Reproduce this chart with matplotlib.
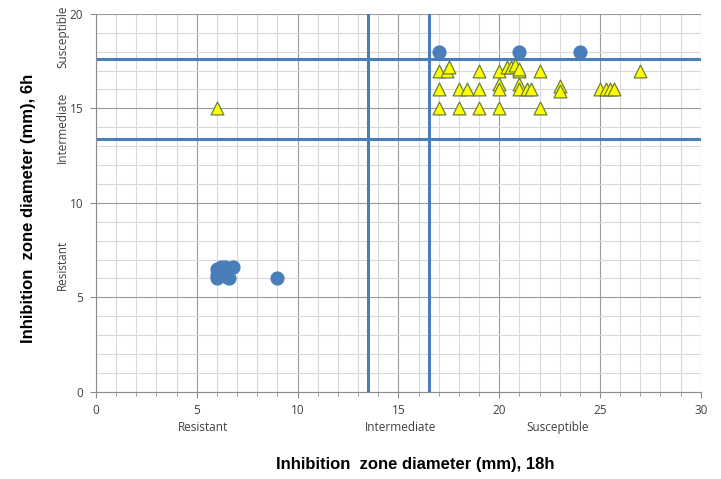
import matplotlib
matplotlib.use("Agg")
import matplotlib.pyplot as plt
from matplotlib.ticker import MultipleLocator

# blue circles
circle_x = [17, 21, 24, 6, 6, 6, 6.2, 6.4, 6.5, 6.6, 6.8, 6.3, 6.1, 9]
circle_y = [18, 18, 18, 6, 6.2, 6.5, 6.6, 6.6, 6.1, 6.0, 6.6, 6.3, 6.4, 6]

# yellow triangles
tri_x = [6,
         17, 17.4, 17.5, 19, 20, 20.4, 20.6, 20.8, 21, 21, 22, 27,
         20, 21, 23, 23,
         17, 18, 18.4, 19, 20, 21, 21.4, 21.6, 25, 25.3, 25.5, 25.7,
         17, 18, 19, 20, 22]
tri_y = [15,
         17, 17, 17.2, 17, 17, 17.2, 17.2, 17.3, 17, 17.1, 17, 17,
         16.3, 16.3, 16.2, 15.9,
         16, 16, 16, 16, 16, 16, 16, 16, 16, 16, 16, 16,
         15, 15, 15, 15, 15]

# breakpoints
x_breaks = [13.5, 16.5]
y_breaks = [13.4, 17.6]

x_cat = ["Resistant", "Intermediate", "Susceptible"]
x_cat_pos = [5.3, 15.1, 22.9]
y_cat = ["Resistant", "Intermediate", "Susceptible"]
y_cat_pos = [6.7, 14.0, 18.8]

fig = plt.figure(figsize=(7.21, 4.79), dpi=100)
ax = fig.add_axes([0.133, 0.182, 0.839, 0.789])

ax.set_xlim(0, 30)
ax.set_ylim(0, 20)
ax.xaxis.set_major_locator(MultipleLocator(5))
ax.yaxis.set_major_locator(MultipleLocator(5))
ax.xaxis.set_minor_locator(MultipleLocator(1))
ax.yaxis.set_minor_locator(MultipleLocator(1))
ax.grid(which="minor", color="#d9d9d9", linewidth=0.8)
ax.grid(which="major", color="#9a9a9a", linewidth=0.8)
ax.set_axisbelow(True)

for s in ["top", "right"]:
    ax.spines[s].set_visible(False)
for s in ["left", "bottom"]:
    ax.spines[s].set_color("#8c8c8c")
    ax.spines[s].set_linewidth(0.8)

ax.tick_params(axis="both", which="both", colors="#8c8c8c", direction="out",
               labelcolor="#404040", labelsize=8.5)
ax.tick_params(axis="both", which="major", length=4, pad=5)
ax.tick_params(axis="y", which="minor", length=0)
ax.tick_params(axis="x", which="minor", length=3)
for lab in ax.get_xticklabels() + ax.get_yticklabels():
    lab.set_family("Open Sans")

for xb in x_breaks:
    ax.axvline(xb, color="#4a7ebb", linewidth=2.2, zorder=2)
for yb in y_breaks:
    ax.axhline(yb, color="#4a7ebb", linewidth=2.2, zorder=2)

ax.scatter(circle_x, circle_y, s=85, marker="o", color="#4a7ebb",
           edgecolors="#4a7ebb", zorder=3)
ax.scatter(tri_x, tri_y, s=85, marker="^", color="#ffff00",
           edgecolors="#6b7f3a", linewidths=0.9, zorder=4)

for t, p in zip(x_cat, x_cat_pos):
    ax.text(p, -1.9, t, ha="center", va="center", fontsize=8.5,
            color="#404040", family="Open Sans")
for t, p in zip(y_cat, y_cat_pos):
    ax.text(-1.65, p, t, ha="center", va="center", rotation=90, fontsize=8.5,
            color="#404040", family="Open Sans")

fig.text(0.576, 0.03, "Inhibition  zone diameter (mm), 18h", ha="center",
         va="center", fontsize=12, fontweight="bold", family="Liberation Sans")
fig.text(0.04, 0.565, "Inhibition  zone diameter (mm), 6h", ha="center",
         va="center", fontsize=12, fontweight="bold", rotation=90,
         family="Liberation Sans")

fig.savefig("out.png", dpi=100)
